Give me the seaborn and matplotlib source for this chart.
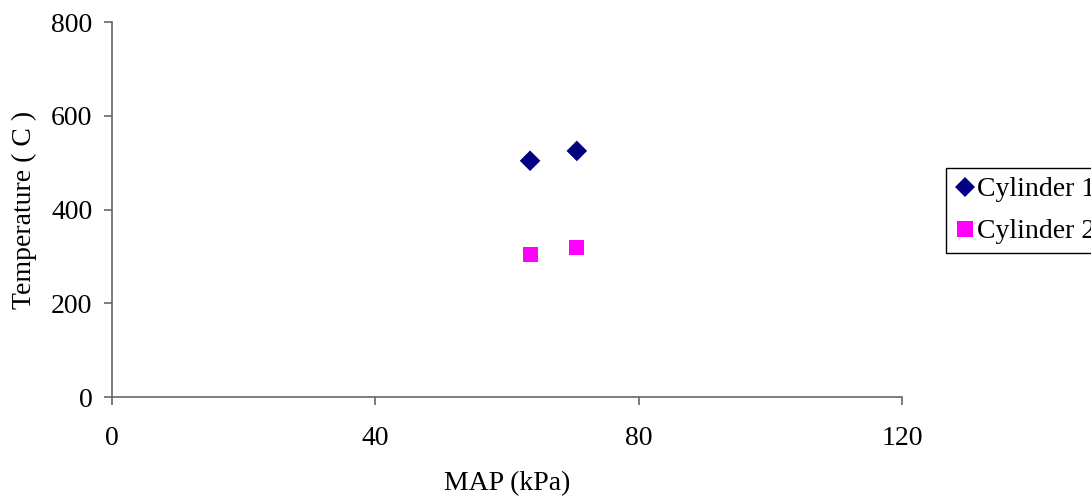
import matplotlib
matplotlib.use("Agg")
import matplotlib.pyplot as plt
from matplotlib.lines import Line2D
import seaborn as sns
import pandas as pd

# Exhaust temperature readings per cylinder
map_kpa = [63.5, 70.6]
cyl1_temp = [504, 525]
cyl2_temp = [305, 318]
series_names = ["Cylinder 1", "Cylinder 2"]
x_ticks = [0, 40, 80, 120]
y_ticks = [0, 200, 400, 600, 800]

colors = ["#000080", "#FF00FF"]
markers = ["D", "s"]
sizes = [110, 117]

df1 = pd.DataFrame({"MAP": map_kpa, "Temp": cyl1_temp})
df2 = pd.DataFrame({"MAP": map_kpa, "Temp": cyl2_temp})

sns.set_theme(style="white")
plt.rcParams["font.family"] = ["Liberation Serif", "DejaVu Serif"]
plt.rcParams["text.color"] = "black"
plt.rcParams["axes.labelcolor"] = "black"
plt.rcParams["xtick.color"] = "black"
plt.rcParams["ytick.color"] = "black"

FS = 20

fig = plt.figure(figsize=(10.91, 4.97), dpi=100)
ax = fig.add_axes([0.1027, 0.2012, 0.7241, 0.7545])

for d, c, m, s in zip([df1, df2], colors, markers, sizes):
    sns.scatterplot(data=d, x="MAP", y="Temp", color=c, marker=m, s=s,
                    edgecolor="none", linewidth=0, ax=ax, legend=False)

ax.set_xlim(0, 120)
ax.set_ylim(0, 800)
ax.set_xticks(x_ticks)
ax.set_yticks(y_ticks)
ax.tick_params(axis="both", labelsize=FS, labelcolor="black", length=6,
               width=1.2, direction="out", bottom=True, left=True,
               color="#666666")
ax.tick_params(axis="x", pad=15)
ax.tick_params(axis="y", pad=8)
for side in ["top", "right"]:
    ax.spines[side].set_visible(False)
for side in ["left", "bottom"]:
    ax.spines[side].set_color("#666666")
    ax.spines[side].set_linewidth(1.2)

ax.set_xlabel("MAP (kPa)", fontsize=FS, labelpad=14)
ax.set_ylabel("Temperature ( C )", fontsize=FS, labelpad=10)

handles = [
    Line2D([], [], linestyle="none", marker="D", color=colors[0],
           markeredgewidth=0, markersize=10.5),
    Line2D([], [], linestyle="none", marker="s", color=colors[1],
           markeredgewidth=0, markersize=11.5),
]
fig.legend(handles, series_names, loc="upper left",
           bbox_to_anchor=(946 / 1091, 1 - 168 / 497), fontsize=FS,
           frameon=True, fancybox=False, edgecolor="black", framealpha=1,
           handlelength=0.75, handletextpad=0.05, borderpad=0.32,
           labelspacing=0.6, borderaxespad=0)
fig.legends[0].get_frame().set_linewidth(1.0)

fig.savefig("out.png", dpi=100)
